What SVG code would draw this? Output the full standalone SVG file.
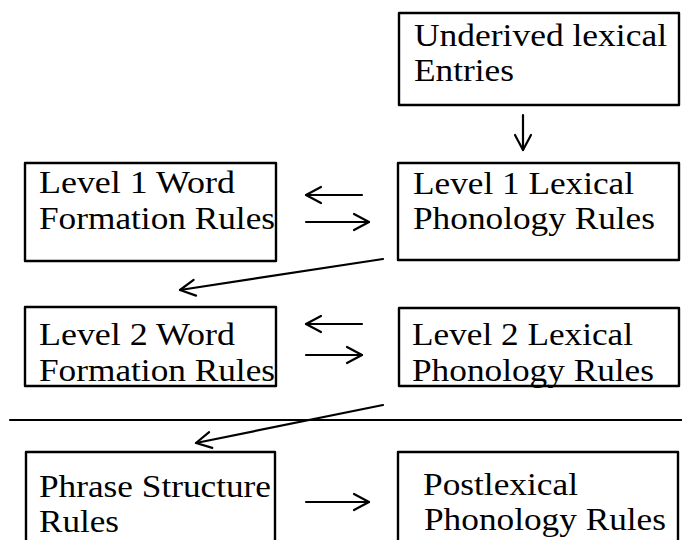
<svg xmlns="http://www.w3.org/2000/svg" width="682" height="540" viewBox="0 0 682 540">
<style>
.box{fill:#fff;stroke:#000;stroke-width:2.4;stroke-linejoin:round}
.t{font-family:'Liberation Serif','Times New Roman',serif;font-size:32px;fill:#000}
.ln{fill:none;stroke:#000;stroke-width:2.2;stroke-linecap:round}
</style>
<defs>
<marker id="ah" markerUnits="userSpaceOnUse" viewBox="-18 -10 20 20" markerWidth="20" markerHeight="20" refX="0" refY="0" orient="auto" overflow="visible">
<path d="M-15,-8 L0,0 L-15,8" fill="none" stroke="#000" stroke-width="2.2" stroke-linecap="round" stroke-linejoin="round"/>
</marker>
</defs>
<rect width="682" height="540" fill="#fff"/>
<g id="underived">
<rect class="box" x="399" y="13" width="280" height="92"/>
<text class="t" x="414" y="46" textLength="253" lengthAdjust="spacingAndGlyphs">Underived lexical</text>
<text class="t" x="414" y="81" textLength="100" lengthAdjust="spacingAndGlyphs">Entries</text>
</g>
<g id="l1word">
<rect class="box" x="25" y="163" width="251" height="98"/>
<text class="t" x="39" y="193" textLength="196" lengthAdjust="spacingAndGlyphs">Level 1 Word</text>
<text class="t" x="39" y="229" textLength="236" lengthAdjust="spacingAndGlyphs">Formation Rules</text>
</g>
<g id="l1lex">
<rect class="box" x="398" y="163" width="281" height="97"/>
<text class="t" x="413" y="194" textLength="221" lengthAdjust="spacingAndGlyphs">Level 1 Lexical</text>
<text class="t" x="413" y="229" textLength="242" lengthAdjust="spacingAndGlyphs">Phonology Rules</text>
</g>
<g id="l2word">
<rect class="box" x="25" y="307" width="251" height="79"/>
<text class="t" x="39" y="345" textLength="196" lengthAdjust="spacingAndGlyphs">Level 2 Word</text>
<text class="t" x="39" y="381" textLength="236" lengthAdjust="spacingAndGlyphs">Formation Rules</text>
</g>
<g id="l2lex">
<rect class="box" x="399" y="308" width="280" height="78"/>
<text class="t" x="412" y="345" textLength="221" lengthAdjust="spacingAndGlyphs">Level 2 Lexical</text>
<text class="t" x="412" y="381" textLength="242" lengthAdjust="spacingAndGlyphs">Phonology Rules</text>
</g>
<g id="phrase">
<rect class="box" x="26" y="452" width="249" height="100"/>
<text class="t" x="39" y="497" textLength="232" lengthAdjust="spacingAndGlyphs">Phrase Structure</text>
<text class="t" x="39" y="532" textLength="80" lengthAdjust="spacingAndGlyphs">Rules</text>
</g>
<g id="postlex">
<rect class="box" x="398" y="452" width="280" height="100"/>
<text class="t" x="423" y="495" textLength="155" lengthAdjust="spacingAndGlyphs">Postlexical</text>
<text class="t" x="424" y="530" textLength="242" lengthAdjust="spacingAndGlyphs">Phonology Rules</text>
</g>
<g id="connectors">
<line class="ln" x1="523" y1="115" x2="523" y2="150" marker-end="url(#ah)"/>
<line class="ln" x1="362" y1="195" x2="306" y2="195" marker-end="url(#ah)"/>
<line class="ln" x1="306" y1="222" x2="369" y2="222" marker-end="url(#ah)"/>
<line class="ln" x1="383" y1="259" x2="180" y2="290" marker-end="url(#ah)"/>
<line class="ln" x1="362" y1="324" x2="306" y2="324" marker-end="url(#ah)"/>
<line class="ln" x1="306" y1="355" x2="362" y2="355" marker-end="url(#ah)"/>
<line class="ln" x1="383" y1="405" x2="196" y2="443" marker-end="url(#ah)"/>
<line class="ln" x1="306" y1="502" x2="369" y2="502" marker-end="url(#ah)"/>
<line class="ln" x1="10" y1="420" x2="682" y2="420" stroke-linecap="butt"/>
</g>
</svg>
